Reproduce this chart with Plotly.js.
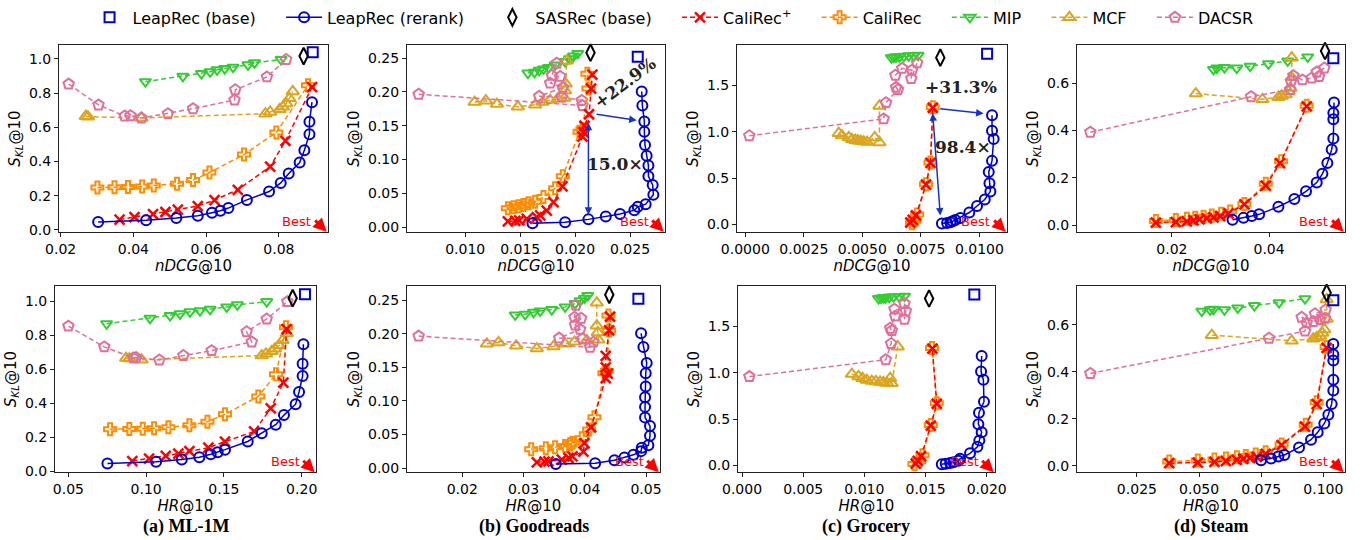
<!DOCTYPE html>
<html><head><meta charset="utf-8">
<script src="https://cdn.plot.ly/plotly-3.0.1.min.js"></script>
<style>html,body{margin:0;padding:0;background:#fff}#chart{width:1367px;height:540px}</style>
</head><body><div id="chart"></div>
<script>
// ---------------- DATA ----------------
// ML-1M
const ml_leapBase_ndcg=[0.0893], ml_leapBase_hr=[0.2021], ml_leapBase_skl=[1.04];
const ml_sasrec_ndcg=[0.0868], ml_sasrec_hr=[0.1942], ml_sasrec_skl=[1.017];
const ml_leap_ndcg=[0.0303,0.0435,0.0518,0.0577,0.0616,0.0639,0.0661,0.0712,0.0773,0.0805,0.0827,0.0857,0.0870,0.0884,0.0884,0.0891];
const ml_leap_hr=[0.0751,0.1064,0.1229,0.1342,0.1415,0.1460,0.1507,0.1653,0.1743,0.1833,0.1886,0.1961,0.1983,0.2006,0.2006,0.2011];
const ml_leap_skl=[0.046,0.056,0.069,0.082,0.100,0.111,0.127,0.175,0.224,0.274,0.330,0.394,0.466,0.560,0.632,0.747];
const ml_calip_ndcg=[0.0362,0.0403,0.0454,0.0488,0.0522,0.0577,0.0623,0.0687,0.0776,0.0818,0.0891];
const ml_calip_hr=[0.0911,0.1019,0.1126,0.1207,0.1278,0.1400,0.1507,0.1694,0.1801,0.1882,0.1903];
const ml_calip_skl=[0.06,0.074,0.091,0.104,0.118,0.139,0.174,0.234,0.37,0.521,0.835];
const ml_cali_ndcg=[0.0301,0.0348,0.0385,0.0424,0.0456,0.0520,0.0564,0.0609,0.0704,0.0793,0.0880];
const ml_cali_hr=[0.0768,0.0892,0.0978,0.1051,0.1143,0.1278,0.1394,0.1507,0.1721,0.1835,0.1899];
const ml_cali_skl=[0.247,0.249,0.25,0.253,0.259,0.27,0.291,0.335,0.44,0.57,0.846];
const ml_mip_ndcg=[0.0433,0.0536,0.0587,0.0611,0.0630,0.0651,0.0674,0.0715,0.0733,0.0806];
const ml_mip_hr=[0.0746,0.1025,0.1154,0.1218,0.1282,0.1346,0.1411,0.1518,0.1586,0.1775];
const ml_mip_skl=[0.867,0.899,0.915,0.925,0.937,0.944,0.952,0.966,0.978,0.997];
const ml_mcf_ndcg=[0.0269,0.0275,0.0422,0.0763,0.0776,0.0802,0.0811,0.0820,0.0829,0.0838];
const ml_mcf_hr=[0.0871,0.0892,0.0971,0.1743,0.1771,0.1807,0.1828,0.1856,0.1878,0.1904];
const ml_mcf_skl=[0.665,0.662,0.655,0.68,0.69,0.705,0.72,0.74,0.77,0.81];
const ml_dacsr_ndcg=[0.0222,0.0304,0.0376,0.0392,0.0422,0.0495,0.0564,0.0678,0.0680,0.0767,0.0820];
const ml_dacsr_hr=[0.05,0.0731,0.0918,0.0935,0.1085,0.1239,0.1421,0.1679,0.1646,0.1775,0.1908];
const ml_dacsr_skl=[0.853,0.731,0.666,0.668,0.654,0.68,0.709,0.76,0.82,0.895,0.997];

// Goodreads
const gr_leapBase_ndcg=[0.0257], gr_leapBase_hr=[0.04875], gr_leapBase_skl=[0.252];
const gr_sasrec_ndcg=[0.0214], gr_sasrec_hr=[0.0440], gr_sasrec_skl=[0.258];
const gr_leap_ndcg=[0.01612,0.01909,0.02121,0.02279,0.02409,0.02539,0.0257,0.02642,0.02712,0.02706,0.02667,0.02667,0.02651,0.02636,0.0263,0.0263,0.02612,0.02606];
const gr_leap_hr=[0.03527,0.04169,0.04484,0.04647,0.04794,0.04919,0.0493,0.05038,0.05065,0.05065,0.04984,0.04984,0.04984,0.04995,0.04995,0.05011,0.04957,0.04919];
const gr_leap_skl=[0.006,0.0073,0.0116,0.0158,0.0197,0.0252,0.0302,0.034,0.048,0.0625,0.0753,0.0911,0.1056,0.1215,0.141,0.1563,0.1801,0.2007];
const gr_calip_ndcg=[0.01388,0.01455,0.01491,0.01561,0.01651,0.01682,0.01742,0.01803,0.01885,0.02067,0.02076,0.02085,0.02127,0.02145,0.02157];
const gr_calip_hr=[0.03217,0.03342,0.03408,0.03625,0.03734,0.03799,0.03978,0.03995,0.04103,0.04342,0.04375,0.04342,0.04342,0.04397,0.04413];
const gr_calip_skl=[0.0085,0.0095,0.01,0.0125,0.015,0.0175,0.0245,0.037,0.0605,0.134,0.1405,0.15,0.167,0.205,0.2255];
const gr_cali_ndcg=[0.01388,0.01439,0.01485,0.0153,0.01576,0.01636,0.01712,0.01818,0.01888,0.0204,0.02067,0.02121,0.02112];
const gr_cali_hr=[0.03125,0.03364,0.03516,0.03679,0.03761,0.03799,0.03951,0.04071,0.04158,0.04321,0.04359,0.04397,0.04386];
const gr_cali_skl=[0.028,0.0295,0.031,0.033,0.0355,0.0375,0.0445,0.0575,0.0755,0.141,0.145,0.205,0.227];
const gr_mip_ndcg=[0.0157,0.0163,0.01673,0.01712,0.01758,0.01818,0.01909,0.01948,0.01985,0.02024];
const gr_mip_hr=[0.02864,0.03027,0.03163,0.03272,0.03462,0.03679,0.03842,0.03924,0.03995,0.04049];
const gr_mip_skl=[0.228,0.229,0.232,0.234,0.236,0.24,0.245,0.249,0.253,0.257];
const gr_mcf_ndcg=[0.01085,0.01188,0.01288,0.01479,0.01636,0.01703,0.01773,0.01842,0.01903,0.01909,0.01915,0.01924];
const gr_mcf_hr=[0.02402,0.02592,0.0288,0.03217,0.03489,0.03679,0.03832,0.04033,0.04223,0.04212,0.04196,0.04196];
const gr_mcf_skl=[0.185,0.187,0.182,0.178,0.181,0.185,0.188,0.19,0.191,0.202,0.212,0.246];
const gr_dacsr_ndcg=[0.00576,0.02067,0.0206,0.01879,0.01673,0.01888,0.01773,0.01864,0.01788,0.01833];
const gr_dacsr_hr=[0.01288,0.04087,0.04141,0.03962,0.03582,0.03924,0.03842,0.0394,0.03832,0.03853];
const gr_dacsr_skl=[0.1965,0.18,0.1875,0.1925,0.1935,0.2065,0.213,0.223,0.2245,0.2425];

// Grocery
const gc_leapBase_ndcg=[0.01033], gc_leapBase_hr=[0.01899], gc_leapBase_skl=[1.843];
const gc_sasrec_ndcg=[0.00833], gc_sasrec_hr=[0.01529], gc_sasrec_skl=[1.80];
const gc_leap_ndcg=[0.0084,0.00862,0.00876,0.00886,0.00897,0.00919,0.00957,0.0099,0.01023,0.01047,0.01043,0.0104,0.01054,0.01061,0.01054,0.01054];
const gc_leap_hr=[0.01633,0.01665,0.01701,0.01728,0.01769,0.01782,0.01864,0.01924,0.0194,0.01959,0.01932,0.01937,0.01978,0.01973,0.01954,0.01959];
const gc_leap_skl=[0.0127,0.018,0.025,0.035,0.05,0.072,0.13,0.2,0.27,0.358,0.445,0.568,0.687,0.923,1.012,1.18];
const gc_calip_ndcg=[0.00705,0.00715,0.00729,0.00772,0.00791,0.00801];
const gc_calip_hr=[0.0142,0.01437,0.01464,0.01543,0.01592,0.01556];
const gc_calip_skl=[0.02,0.05,0.1,0.43,0.665,1.26];
const gc_cali_ndcg=[0.00712,0.00722,0.00734,0.00772,0.00791,0.00801];
const gc_cali_hr=[0.0141,0.01448,0.01475,0.01543,0.01592,0.01553];
const gc_cali_skl=[0.015,0.045,0.11,0.435,0.67,1.265];
const gc_mip_ndcg=[0.00624,0.00634,0.00644,0.00658,0.00677,0.00698,0.0072,0.00738];
const gc_mip_hr=[0.01116,0.01137,0.01156,0.01175,0.01203,0.01238,0.01284,0.01328];
const gc_mip_skl=[1.80,1.805,1.81,1.81,1.815,1.82,1.82,1.825];
const gc_mcf_ndcg=[0.00399,0.00413,0.00442,0.00456,0.0047,0.00481,0.00493,0.00506,0.0052,0.00553,0.00573,0.00573];
const gc_mcf_hr=[0.00898,0.00952,0.00985,0.0102,0.01061,0.01094,0.01129,0.01156,0.01184,0.01211,0.01224,0.01273];
const gc_mcf_skl=[0.985,0.96,0.94,0.92,0.91,0.905,0.9,0.895,0.89,0.94,0.885,1.28];
const gc_dacsr_ndcg=[0.00017,0.00591,0.00601,0.00652,0.00644,0.00641,0.0067,0.00712,0.00709,0.00734];
const gc_dacsr_hr=[0.0006,0.01175,0.01219,0.01224,0.01211,0.01252,0.01246,0.01339,0.01328,0.01328];
const gc_dacsr_skl=[0.958,1.14,1.315,1.455,1.48,1.61,1.685,1.665,1.575,1.745];

// Steam
const st_leapBase_ndcg=[0.05322], st_leapBase_hr=[0.104], st_leapBase_skl=[0.705];
const st_sasrec_ndcg=[0.05151], st_sasrec_hr=[0.10132], st_sasrec_skl=[0.736];
const st_leap_ndcg=[0.03247,0.03473,0.03644,0.03795,0.04192,0.04521,0.0476,0.0498,0.05096,0.05199,0.05288,0.05322,0.05322,0.05322,0.05336];
const st_leap_hr=[0.07494,0.07896,0.08191,0.08432,0.09021,0.09503,0.09771,0.10039,0.102,0.10333,0.104,0.104,0.104,0.104,0.104];
const st_leap_skl=[0.023,0.031,0.039,0.046,0.078,0.111,0.143,0.18,0.217,0.263,0.32,0.366,0.448,0.474,0.518];
const st_calip_ndcg=[0.01671,0.02082,0.02308,0.02445,0.02569,0.02719,0.02856,0.02993,0.03165,0.03493,0.03932,0.04226,0.04774];
const st_calip_hr=[0.038,0.0495,0.0562,0.0608,0.0652,0.0678,0.0705,0.0732,0.0768,0.0832,0.0926,0.0973,0.1013];
const st_calip_skl=[0.011,0.013,0.016,0.02,0.025,0.029,0.033,0.038,0.05,0.088,0.167,0.262,0.502];
const st_cali_ndcg=[0.01671,0.02082,0.02308,0.0248,0.02651,0.02822,0.03014,0.03199,0.03493,0.03932,0.04247,0.04774];
const st_cali_hr=[0.038,0.0495,0.0562,0.0608,0.0652,0.0688,0.0728,0.0768,0.0832,0.0929,0.0973,0.1013];
const st_cali_skl=[0.018,0.022,0.027,0.031,0.036,0.041,0.048,0.058,0.09,0.175,0.27,0.505];
const st_mip_ndcg=[0.02856,0.02925,0.03082,0.03336,0.0361,0.03987,0.04384,0.04795];
const st_mip_hr=[0.0511,0.05446,0.05574,0.06022,0.06557,0.07227,0.08218,0.09262];
const st_mip_skl=[0.658,0.664,0.666,0.664,0.672,0.682,0.694,0.711];
const st_mcf_ndcg=[0.02493,0.03863,0.04192,0.0426,0.04343,0.04398,0.04439,0.04466,0.04466];
const st_mcf_hr=[0.05513,0.08726,0.09597,0.09731,0.09865,0.09958,0.10039,0.10132,0.10132];
const st_mcf_skl=[0.556,0.532,0.541,0.546,0.552,0.565,0.58,0.625,0.708];
const st_dacsr_ndcg=[0.00322,0.0363,0.04432,0.04452,0.045,0.04685,0.04877,0.05028,0.0498,0.05137];
const st_dacsr_hr=[0.00625,0.07816,0.09262,0.09329,0.09128,0.09597,0.09865,0.10065,0.09664,0.10092];
const st_dacsr_skl=[0.393,0.543,0.573,0.608,0.632,0.614,0.622,0.628,0.647,0.664];

// Tick labels
const ml_ndcg_ticks=[0.02,0.04,0.06,0.08], ml_hr_ticks=[0.05,0.10,0.15,0.20], ml_skl_ticks=[0,0.2,0.4,0.6,0.8,1.0];
const gr_ndcg_ticks=[0.010,0.015,0.020,0.025], gr_hr_ticks=[0.02,0.03,0.04,0.05], gr_skl_ticks=[0,0.05,0.10,0.15,0.20,0.25];
const gc_ndcg_ticks=[0,0.0025,0.005,0.0075,0.01], gc_hr_ticks=[0,0.005,0.01,0.015,0.02], gc_skl_ticks=[0,0.5,1.0,1.5];
const st_ndcg_ticks=[0.02,0.04], st_hr_ticks=[0.025,0.05,0.075,0.1], st_skl_ticks=[0,0.2,0.4,0.6];

const panelLabels=['(a) ML-1M','(b) Goodreads','(c) Grocery','(d) Steam'];
const methodNames={leapBase:'LeapRec (base)',leap:'LeapRec (rerank)',sasrec:'SASRec (base)',calip:'CaliRec<sup>+</sup>',cali:'CaliRec',mip:'MIP',mcf:'MCF',dacsr:'DACSR'};

// ---------------- BUILD ----------------
const D = {
  ml:{leapBase:[ml_leapBase_ndcg,ml_leapBase_hr,ml_leapBase_skl],sasrec:[ml_sasrec_ndcg,ml_sasrec_hr,ml_sasrec_skl],leap:[ml_leap_ndcg,ml_leap_hr,ml_leap_skl],calip:[ml_calip_ndcg,ml_calip_hr,ml_calip_skl],cali:[ml_cali_ndcg,ml_cali_hr,ml_cali_skl],mip:[ml_mip_ndcg,ml_mip_hr,ml_mip_skl],mcf:[ml_mcf_ndcg,ml_mcf_hr,ml_mcf_skl],dacsr:[ml_dacsr_ndcg,ml_dacsr_hr,ml_dacsr_skl]},
  gr:{leapBase:[gr_leapBase_ndcg,gr_leapBase_hr,gr_leapBase_skl],sasrec:[gr_sasrec_ndcg,gr_sasrec_hr,gr_sasrec_skl],leap:[gr_leap_ndcg,gr_leap_hr,gr_leap_skl],calip:[gr_calip_ndcg,gr_calip_hr,gr_calip_skl],cali:[gr_cali_ndcg,gr_cali_hr,gr_cali_skl],mip:[gr_mip_ndcg,gr_mip_hr,gr_mip_skl],mcf:[gr_mcf_ndcg,gr_mcf_hr,gr_mcf_skl],dacsr:[gr_dacsr_ndcg,gr_dacsr_hr,gr_dacsr_skl]},
  gc:{leapBase:[gc_leapBase_ndcg,gc_leapBase_hr,gc_leapBase_skl],sasrec:[gc_sasrec_ndcg,gc_sasrec_hr,gc_sasrec_skl],leap:[gc_leap_ndcg,gc_leap_hr,gc_leap_skl],calip:[gc_calip_ndcg,gc_calip_hr,gc_calip_skl],cali:[gc_cali_ndcg,gc_cali_hr,gc_cali_skl],mip:[gc_mip_ndcg,gc_mip_hr,gc_mip_skl],mcf:[gc_mcf_ndcg,gc_mcf_hr,gc_mcf_skl],dacsr:[gc_dacsr_ndcg,gc_dacsr_hr,gc_dacsr_skl]},
  st:{leapBase:[st_leapBase_ndcg,st_leapBase_hr,st_leapBase_skl],sasrec:[st_sasrec_ndcg,st_sasrec_hr,st_sasrec_skl],leap:[st_leap_ndcg,st_leap_hr,st_leap_skl],calip:[st_calip_ndcg,st_calip_hr,st_calip_skl],cali:[st_cali_ndcg,st_cali_hr,st_cali_skl],mip:[st_mip_ndcg,st_mip_hr,st_mip_skl],mcf:[st_mcf_ndcg,st_mcf_hr,st_mcf_skl],dacsr:[st_dacsr_ndcg,st_dacsr_hr,st_dacsr_skl]}
};
const TICKS = {
  ml:[ml_ndcg_ticks,ml_hr_ticks,ml_skl_ticks], gr:[gr_ndcg_ticks,gr_hr_ticks,gr_skl_ticks],
  gc:[gc_ndcg_ticks,gc_hr_ticks,gc_skl_ticks], st:[st_ndcg_ticks,st_hr_ticks,st_skl_ticks]
};
const FMT = {ml:['.2f','.2f','.1f'], gr:['.3f','.2f','.2f'], gc:['.4f','.3f','.1f'], st:['.2f','.3f','.1f']};
const keys=['ml','gr','gc','st'];

const BLUE='#0000cc', RED='#ff0000', ORANGE='#ff8c00', GREEN='#33cc33', GOLD='#daa520', PINK='#e0709a';
const STY = {
  mip:{c:GREEN, sym:'triangle-down-open', sz:10, dash:'5px,3px', mode:'lines+markers', rank:6},
  mcf:{c:GOLD, sym:'triangle-up-open', sz:11, dash:'5px,3px', mode:'lines+markers', rank:7},
  dacsr:{c:PINK, sym:'pentagon-open', sz:11, dash:'5px,3px', mode:'lines+markers', rank:8},
  cali:{c:ORANGE, sym:'cross-open', sz:10, dash:'5px,3px', mode:'lines+markers', rank:5},
  calip:{c:RED, sym:'x-thin', sz:10, dash:'5px,3px', mode:'lines+markers', rank:4},
  leap:{c:BLUE, sym:'circle-open', sz:10, dash:'solid', mode:'lines+markers', rank:2},
  leapBase:{c:BLUE, sym:'square-open', sz:10, dash:'solid', mode:'markers', rank:1},
  sasrec:{c:'#000000', sym:'diamond-tall-open', sz:12, dash:'solid', mode:'markers', rank:3}
};
const order=['mip','mcf','dacsr','cali','calip','leap','leapBase','sasrec'];

// frames in pixel coords (left,right) per panel; rows (top,bottom)
const W=1367, H=540;
const topX=[[59,328],[407,665],[737,1007],[1077,1345]];
const botX=[[55,316],[407,660],[738,995],[1077,1345]];
const topY=[36,226], botY=[281,471];
const xr = (p)=>[p[0]/W, p[1]/W];
const yr = (p)=>[1-p[1]/H, 1-p[0]/H];
const ranges = {
  ml:{nx:[0.01954,0.0935], hx:[0.0414,0.2092], ty:[-0.012,1.08], by:[-0.006,1.09]},
  gr:{nx:[0.0047,0.02818], hx:[0.01098,0.05228], ty:[-0.0068,0.2689], by:[-0.0063,0.2714]},
  gc:{nx:[-0.000356,0.01118], hx:[-0.00033,0.02068], ty:[-0.078,1.933], by:[-0.074,1.937]},
  st:{nx:[0.00048,0.05562], hx:[0.0009,0.1087], ty:[-0.0279,0.760], by:[-0.0278,0.766]}
};

const PAD='\u00a0\u00a0\u00a0\u00a0';
const traces=[];
const layout={
  width:W, height:H, margin:{l:0,r:0,t:0,b:0}, paper_bgcolor:'#fff', plot_bgcolor:'#fff',
  font:{family:'DejaVu Sans', size:14, color:'#000'},
  showlegend:true,
  legend:{orientation:'h', x:0.492, xanchor:'center', y:1.018, yanchor:'top', font:{family:'DejaVu Sans', size:16}, traceorder:'normal', bgcolor:'rgba(0,0,0,0)', itemwidth:36, tracegroupgap:0},
  annotations:[]
};
const axBase={showline:true, mirror:true, linecolor:'#222', linewidth:1, ticks:'outside', ticklen:4, tickcolor:'#222', showgrid:false, zeroline:false, tickfont:{family:'DejaVu Sans', size:14, color:'#000'}};

keys.forEach((k,i)=>{
  [0,1].forEach(row=>{
    const n = i+1+row*4;
    const xn = n===1?'x':'x'+n, yn = n===1?'y':'y'+n;
    const xk = n===1?'xaxis':'xaxis'+n, yk = n===1?'yaxis':'yaxis'+n;
    const xt = TICKS[k][row], yt = TICKS[k][2];
    layout[xk] = Object.assign({}, axBase, {
      domain: xr(row===0?topX[i]:botX[i]), anchor: yn,
      range: row===0?ranges[k].nx:ranges[k].hx,
      tickvals: xt, tickformat: FMT[k][row],
      title:{text: row===0?'<i>nDCG</i>@10':'<i>HR</i>@10', font:{size:15}, standoff:0}
    });
    layout[yk] = Object.assign({}, axBase, {
      domain: yr(row===0?topY:botY), anchor: xn,
      range: row===0?ranges[k].ty:ranges[k].by,
      tickvals: yt, tickformat: FMT[k][2],
      title:{text:'<i>S</i><sub><i>KL</i></sub>@10', font:{size:15}, standoff:4}
    });
    order.forEach(m=>{
      const s=STY[m], d=D[k][m];
      const isX = m==='calip';
      traces.push({
        type:'scatter', mode:s.mode, x: d[row], y: d[2], xaxis:xn, yaxis:yn,
        name: methodNames[m] + (m==='dacsr'?'':PAD), legendgroup:m, legendrank:s.rank, showlegend: n===1,
        line:{color:s.c, width:1.5, dash:s.dash},
        marker:{symbol:s.sym, size:s.sz, color:s.c, line:{color:s.c, width: isX?2.5:2}},
        cliponaxis:false, hoverinfo:'skip'
      });
    });
    // "Best" indicator
    const xd = (n===1?'x':'x'+n)+' domain', yd=(n===1?'y':'y'+n)+' domain';
    layout.annotations.push({xref:xd, yref:yd, x:0.995, y:0.0, ax:-13, ay:-13, text:'', showarrow:true, arrowcolor:RED, arrowwidth:3, arrowhead:2, arrowsize:0.9});
    layout.annotations.push({xref:xd, yref:yd, x:0.945, y:0.005, xanchor:'right', yanchor:'bottom', text:'Best', showarrow:false, font:{family:'DejaVu Sans', size:13, color:RED}});
  });
  // panel caption
  const cx = (botX[i][0]+botX[i][1])/2/W;
  layout.annotations.push({xref:'paper', yref:'paper', x:cx, y:1-526/H, xanchor:'center', yanchor:'middle', text:'<b>'+panelLabels[i]+'</b>', showarrow:false, font:{family:'Liberation Serif', size:18, color:'#000'}});
});

// Highlight annotations (Goodreads nDCG panel and Grocery nDCG panel)
const ARW='#1533c8';
const serif={family:'DejaVu Serif', size:17, color:'#222'};
layout.annotations.push(
  {xref:'x2', yref:'y2', axref:'x2', ayref:'y2', x:0.02121, y:0.0184, ax:0.02121, ay:0.1565, text:'', showarrow:true, arrowside:'end+start', arrowcolor:ARW, arrowwidth:1.5, arrowhead:2, arrowsize:1},
  {xref:'x2', yref:'y2', axref:'x2', ayref:'y2', x:0.0256, y:0.158, ax:0.02182, ay:0.1672, text:'', showarrow:true, arrowcolor:ARW, arrowwidth:1.5, arrowhead:2, arrowsize:1},
  {xref:'x2', yref:'y2', x:0.0245, y:0.213, text:'<b>+22.9%</b>', textangle:-37, showarrow:false, font:serif},
  {xref:'x2', yref:'y2', x:0.0236, y:0.094, text:'<b>15.0×</b>', showarrow:false, font:serif},
  {xref:'x3', yref:'y3', axref:'x3', ayref:'y3', x:0.01018, y:1.198, ax:0.00826, ay:1.252, text:'', showarrow:true, arrowcolor:ARW, arrowwidth:1.5, arrowhead:2, arrowsize:1},
  {xref:'x3', yref:'y3', axref:'x3', ayref:'y3', x:0.00833, y:0.099, ax:0.0080, ay:1.216, text:'', showarrow:true, arrowside:'end+start', arrowcolor:ARW, arrowwidth:1.5, arrowhead:2, arrowsize:1},
  {xref:'x3', yref:'y3', x:0.00923, y:1.48, text:'<b>+31.3%</b>', showarrow:false, font:serif},
  {xref:'x3', yref:'y3', x:0.00930, y:0.84, text:'<b>98.4×</b>', showarrow:false, font:serif}
);

Plotly.newPlot('chart', traces, layout, {staticPlot:true, displayModeBar:false});
</script></body></html>
